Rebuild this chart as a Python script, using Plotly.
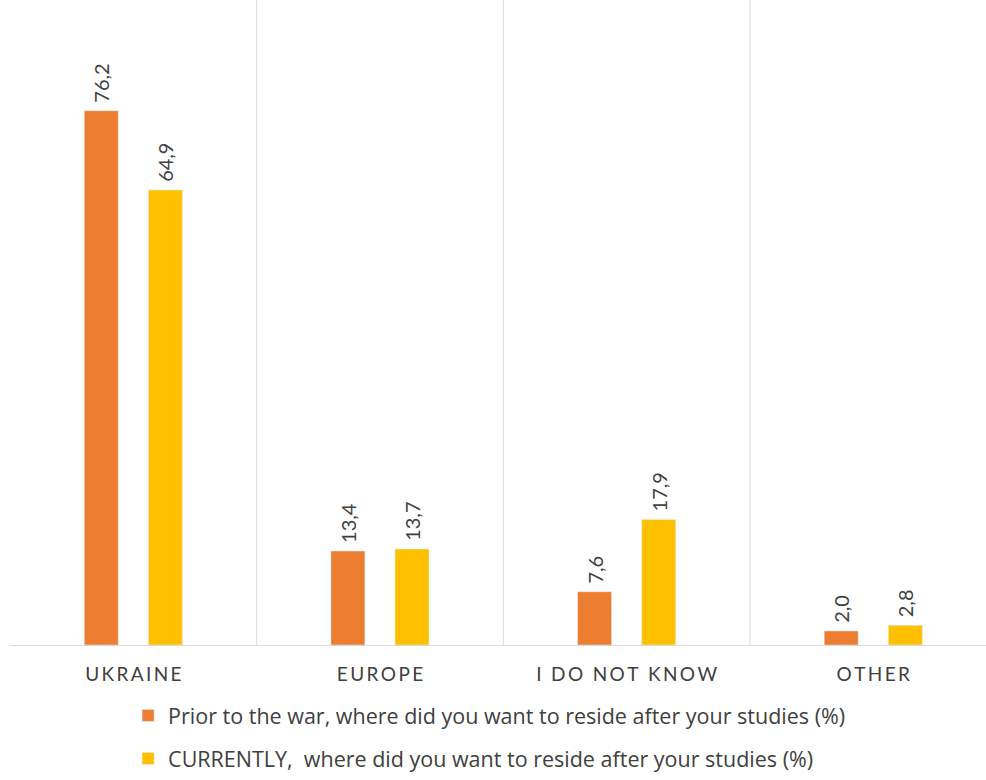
import plotly.graph_objects as go

categories = ["UKRAINE", "EUROPE", "I DO NOT KNOW", "OTHER"]
prior_values = [76.2, 13.4, 7.6, 2.0]
current_values = [64.9, 13.7, 17.9, 2.8]
series_names = [
    "Prior to the war, where did you want to reside after your studies (%)",
    "CURRENTLY,  where did you want to reside after your studies (%)",
]

ORANGE = "#ED7D31"
YELLOW = "#FFC000"
TXT = "#404040"
FONT = "Lato, 'Open Sans', sans-serif"
LEG_FONT = "'Open Sans', Lato, sans-serif"

def fmt(v):
    return "\u00a0" + f"{v:.1f}".replace(".", ",")

def spaced(s):
    return "\u2009".join(list(s))

fig = go.Figure()
for i, (name, vals, col) in enumerate([(series_names[0], prior_values, ORANGE),
                                       (series_names[1], current_values, YELLOW)]):
    fig.add_trace(go.Bar(
        x=categories, y=vals, name=name, marker_color=col,
        legendgroup=f"g{i}",
        text=[fmt(v) for v in vals], textposition="outside",
        textangle=-90, textfont=dict(size=20, color=TXT, family=FONT),
        constraintext="none", cliponaxis=False,
    ))

n = len(categories)
shapes = []
for i in range(n - 1):
    shapes.append(dict(type="line", xref="x", yref="paper",
                       x0=i + 0.5, x1=i + 0.5, y0=0, y1=1,
                       line=dict(color="#D9D9D9", width=1), layer="below"))

fig.update_layout(
    width=986, height=780,
    margin=dict(l=10, r=0, t=0, b=135),
    paper_bgcolor="white", plot_bgcolor="white",
    barmode="group", bargap=0.48, bargroupgap=0.47,
    font=dict(family=FONT, color=TXT),
    shapes=shapes,
    showlegend=True,
    legend=dict(orientation="v", x=0.121, xanchor="left",
                y=-0.2077, yanchor="bottom",
                font=dict(size=21.5, color=TXT, family=LEG_FONT), tracegroupgap=12,
                itemwidth=30, bgcolor="rgba(0,0,0,0)"),
    xaxis=dict(range=[-0.5, 3.457], tickmode="array",
               tickvals=list(range(n)), ticktext=[spaced(c) for c in categories],
               tickfont=dict(size=19, color=TXT, family=FONT),
               showline=True, linecolor="#D9D9D9", linewidth=1,
               showgrid=False, ticks="", ticklabelstandoff=12),
    yaxis=dict(range=[0, 92], visible=False, showgrid=False),
)

fig.write_html("out.html", config={"displayModeBar": False},
               post_script="document.body.style.margin='0px';")
